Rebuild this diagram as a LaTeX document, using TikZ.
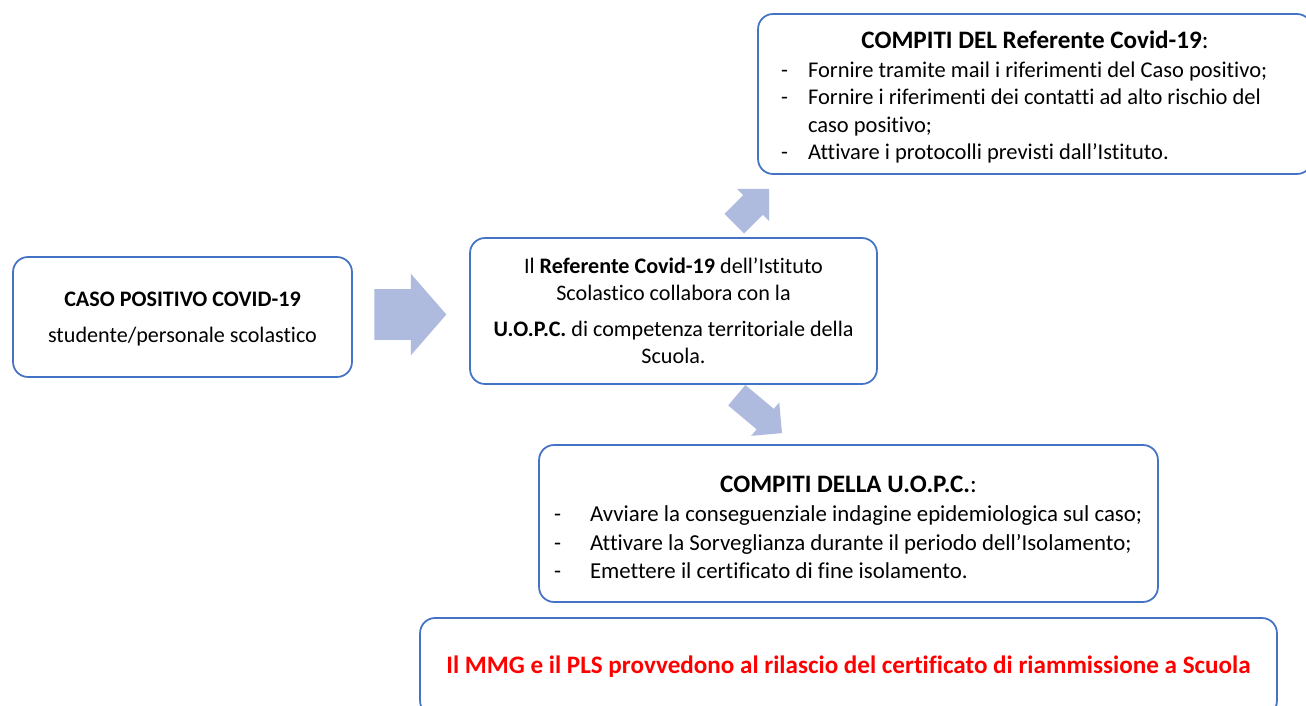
\documentclass[tikz,border=0pt]{standalone}
\usepackage{fontspec}
\setmainfont{Carlito}[Ligatures=NoCommon]
\usetikzlibrary{shapes.arrows}
\definecolor{bordo}{RGB}{68,114,196}
\definecolor{freccia}{RGB}{175,187,222}
\definecolor{rosso}{RGB}{255,0,0}
\newcommand{\titolo}{\fontsize{14.3}{17}\selectfont}
\newcommand{\giu}[2]{\raisebox{-#1}[\height][\depth]{#2}}
\tikzset{
	riquadro/.style={draw=bordo, line width=1pt, rounded corners=0.3cm, fill=white, inner sep=0pt, font=\fontsize{12.6}{15.4}\selectfont},
	blocco/.style={single arrow, fill=freccia, inner xsep=0pt, single arrow head indent=0pt, anchor=tail}
}

\begin{document}
\begin{tikzpicture}[x=0.02cm,y=-0.02cm]
		\useasboundingbox (0,0) rectangle (1306,706);
		\clip (0,0) rectangle (1306,706);

		\node[riquadro, minimum width=6.78cm, minimum height=2.4cm, align=center] (caso) at (182.5,317)
			{\giu{0.04cm}{\begin{tabular}{@{}c@{}}\textbf{CASO POSITIVO COVID-19}\\[5pt] studente/personale scolastico\end{tabular}}};
		\node[riquadro, minimum width=8.14cm, minimum height=2.92cm, align=center] (referente) at (673.5,311)
			{Il \textbf{Referente Covid-19} dell’Istituto\\ Scolastico collabora con la\\[5pt]
			\textbf{U.O.P.C.} di competenza territoriale della\\ Scuola.};
		\node[riquadro, minimum width=11.08cm, minimum height=3.2cm, font=\fontsize{12.8}{15.6}\selectfont] (compitiref) at (1035,94)
			{\giu{0.09cm}{\begin{tabular}{@{}p{0.54cm}@{}p{9.62cm}@{}}
				\multicolumn{2}{@{}c@{}}{\titolo\textbf{COMPITI DEL Referente Covid-19}:}\\[1pt]
				-&Fornire tramite mail i riferimenti del Caso positivo;\\
				-&Fornire i riferimenti dei contatti ad alto rischio del\newline caso positivo;\\
				-&Attivare i protocolli previsti dall’Istituto.
			\end{tabular}}};
		\node[riquadro, minimum width=12.38cm, minimum height=3.14cm, font=\fontsize{13}{16}\selectfont] (compitiuopc) at (848.5,523.5)
			{\giu{0.12cm}{\begin{tabular}{@{}p{0.72cm}@{}p{11.06cm}@{}}
				\multicolumn{2}{@{}c@{}}{\titolo\textbf{COMPITI DELLA U.O.P.C.}:}\\[1pt]
				-&Avviare la conseguenziale indagine epidemiologica sul caso;\\
				-&Attivare la Sorveglianza durante il periodo dell’Isolamento;\\
				-&Emettere il certificato di fine isolamento.
			\end{tabular}}};
		\node[riquadro, minimum width=17.14cm, minimum height=1.96cm, text=rosso, font=\titolo] (riammissione) at (848.5,667)
			{\textbf{Il MMG e il PLS provvedono al rilascio del certificato di riammissione a Scuola}};

		\node[blocco, minimum height=1.44cm, inner ysep=0.5cm, single arrow head extend=0.31cm, single arrow tip angle=98] (fdestra) at (374,314.5) {};
		\node[blocco, rotate=45, minimum height=0.99cm, inner ysep=0.27cm, single arrow head extend=0.18cm, single arrow tip angle=90] (fsu) at (734,224) {};
		\node[blocco, rotate=-40, minimum height=1.18cm, inner ysep=0.26cm, single arrow head extend=0.17cm, single arrow tip angle=90] (fgiu) at (736.5,395) {};

	\end{tikzpicture}
\end{document}
